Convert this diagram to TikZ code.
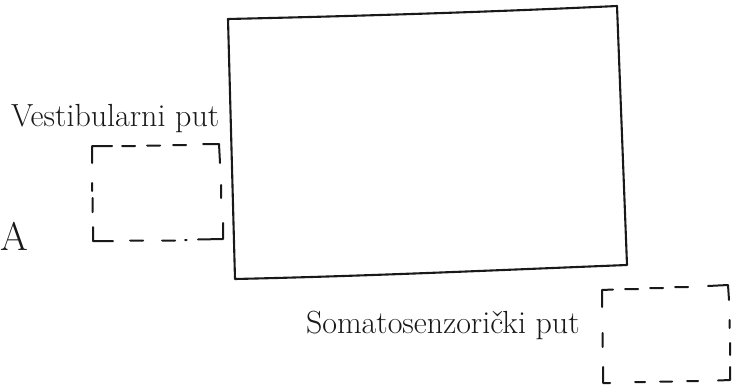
\documentclass[tikz,border=0pt]{standalone}
\usepackage{fontspec}
\begin{document}
\begin{tikzpicture}[x=1pt,y=-1pt,
  ink/.style={draw=black!90,line width=2pt,line cap=round,line join=round},
  frame/.style={ink,line width=2.1pt},
  lbl/.style={inner sep=0pt,outer sep=0pt,text=black!90,font=\fontsize{32}{38}\selectfont},
  biglbl/.style={inner sep=0pt,outer sep=0pt,text=black!90,font=\fontsize{40}{46}\selectfont}]
\useasboundingbox (0,0) rectangle (738,385);

% main frame, slightly tilted
\coordinate (tl) at (228,19);
\coordinate (tr) at (617,6);
\coordinate (br) at (627,265);
\coordinate (bl) at (235,279);
\draw[frame] (tl) .. controls (360,16) and (490,12) .. (tr)
  -- (br) .. controls (500,270) and (370,276) .. (bl) -- cycle;

% labels
\node[lbl,anchor=base west] (vest) at (11,126) {Vestibularni put};
\node[lbl,anchor=base west] (soma) at (306,333) {Somatosenzorički put};
\node[biglbl,anchor=base west] (labA) at (0.5,250) {A};

% dashed box on the left
\draw[ink]
  (112,146) -- (92,146) -- (92,163)
  (122,146) -- (135,146)
  (147,145.5) -- (160,145.5)
  (173,145) -- (186,145)
  (203,144) -- (219,144) -- (220,163)
  (221,185) -- (221,198)
  (223,223) -- (223,239) -- (198,239.5)
  (185,240) -- (186.5,240)
  (162,240.5) -- (175,240.5)
  (130,240.5) -- (143,240.5)
  (113,241) -- (93,241) -- (93,227)
  (92.5,198) -- (92.5,212)
  (92,183) -- (92,191);

% dashed box at the lower right
\draw[ink]
  (613,289.5) -- (602,290) -- (602,307)
  (625,289) -- (638,289)
  (650,288) -- (663,288)
  (675,287) -- (688,287)
  (708,286) -- (728,285) -- (729,300)
  (729.5,320) -- (729.5,328)
  (730,343) -- (730,355)
  (730,367) -- (730,380) -- (718,380.5)
  (687,381) -- (698,381)
  (660,381.5) -- (672,381.5)
  (635,382) -- (645,382)
  (603,367) -- (603,383) -- (610,383)
  (602.5,333) -- (602.5,347);
\end{tikzpicture}
\end{document}
